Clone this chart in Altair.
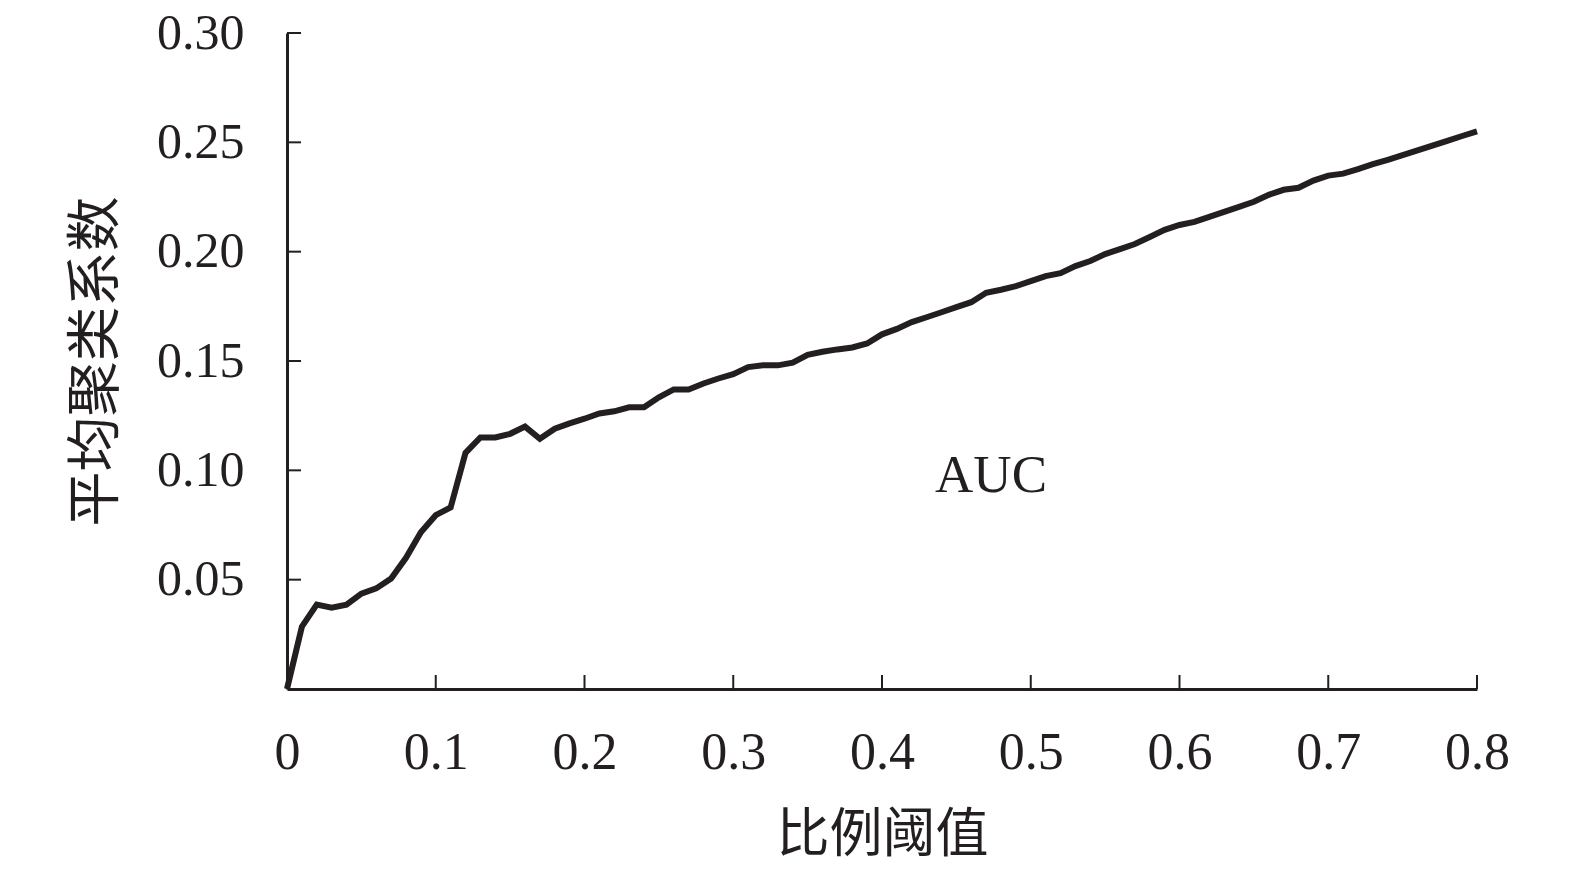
import altair as alt
import pandas as pd

# data
thresholds = [round(i * 0.01, 2) for i in range(81)]
clustering = [
    0.0, 0.0285, 0.0386, 0.0372, 0.0386, 0.0436, 0.0460, 0.0505, 0.0600, 0.0717,
    0.0795, 0.0830, 0.1080, 0.1150, 0.1150, 0.1167, 0.1200, 0.1144, 0.1190, 0.1215,
    0.1236, 0.1260, 0.1270, 0.1288, 0.1288, 0.1334, 0.1370, 0.1370, 0.1397, 0.1420,
    0.1440, 0.1472, 0.1480, 0.1480, 0.1492, 0.1528, 0.1542, 0.1553, 0.1562, 0.1580,
    0.1622, 0.1647, 0.1678, 0.1700, 0.1723, 0.1746, 0.1769, 0.1812, 0.1826, 0.1842,
    0.1865, 0.1888, 0.1902, 0.1934, 0.1957, 0.1989, 0.2012, 0.2035, 0.2067, 0.2100,
    0.2122, 0.2136, 0.2159, 0.2182, 0.2205, 0.2228, 0.2260, 0.2283, 0.2292, 0.2325,
    0.2348, 0.2357, 0.2378, 0.2400, 0.2420, 0.2441, 0.2463, 0.2485, 0.2507, 0.2529,
    0.2550,
]
x_ticks = [0.1, 0.2, 0.3, 0.4, 0.5, 0.6, 0.7, 0.8]
y_ticks = [0.05, 0.10, 0.15, 0.20, 0.25, 0.30]
x_title = "比例阈值"
y_title = "平均聚类系数"
annotation = "AUC"

W, H = 1190, 656
INK = "#231f20"
NUM_FONT = "Liberation Serif"
CJK_FONT = "Noto Sans CJK SC"

df = pd.DataFrame({"x": thresholds, "y": clustering})

xs = alt.Scale(domain=[0, 0.8], nice=False, zero=False)
ys = alt.Scale(domain=[0, 0.3], nice=False, zero=False)

line = alt.Chart(df).mark_line(color=INK, strokeWidth=6, strokeJoin="miter").encode(
    x=alt.X(
        "x:Q",
        scale=xs,
        axis=alt.Axis(
            values=[0] + x_ticks,
            labelExpr="datum.value == 0 ? '0' : format(datum.value, '.1f')",
            ticks=False,
            grid=False,
            domainColor=INK,
            domainWidth=3,
            labelFont=NUM_FONT,
            labelFontSize=52,
            labelColor=INK,
            labelPadding=38,
            labelFlush=False,
            title=x_title,
            titleFont=CJK_FONT,
            titleFontSize=53,
            titleFontWeight="normal",
            titleColor=INK,
            titleY=146,
            titleBaseline="middle",
        ),
    ),
    y=alt.Y(
        "y:Q",
        scale=ys,
        axis=alt.Axis(
            values=y_ticks,
            labelExpr="format(datum.value, '.2f')",
            ticks=False,
            grid=False,
            domainColor=INK,
            domainWidth=3,
            labelFont=NUM_FONT,
            labelFontSize=50,
            labelColor=INK,
            labelPadding=43,
            labelFlush=False,
            title=y_title,
            titleFont=CJK_FONT,
            titleFontSize=55,
            titleFontWeight="normal",
            titleColor=INK,
            titleX=-192,
            titleY=H / 2,
            titleAngle=-90,
            titleBaseline="middle",
        ),
    ),
)

xt = alt.Chart(pd.DataFrame({"v": x_ticks})).mark_rule(color=INK, strokeWidth=2).encode(
    x=alt.X("v:Q", scale=xs),
    y=alt.value(H),
    y2=alt.value(H - 14),
)

yt = alt.Chart(pd.DataFrame({"v": y_ticks})).mark_rule(color=INK, strokeWidth=2).encode(
    y=alt.Y("v:Q", scale=ys),
    x=alt.value(0),
    x2=alt.value(14),
)

txt = alt.Chart(pd.DataFrame({"t": [annotation]})).mark_text(
    font=NUM_FONT, fontSize=53, color=INK, baseline="middle", align="center"
).encode(
    x=alt.datum(0.4733),
    y=alt.datum(0.0974),
    text="t:N",
)

chart = (
    alt.layer(line, xt, yt, txt)
    .properties(
        width=W,
        height=H,
        autosize=alt.AutoSizeParams(type="none"),
        padding={"left": 279, "top": 25, "right": 85, "bottom": 175},
    )
    .configure_view(stroke=None)
)

chart.save("out.html", embed_options={"renderer": "svg", "actions": False})
